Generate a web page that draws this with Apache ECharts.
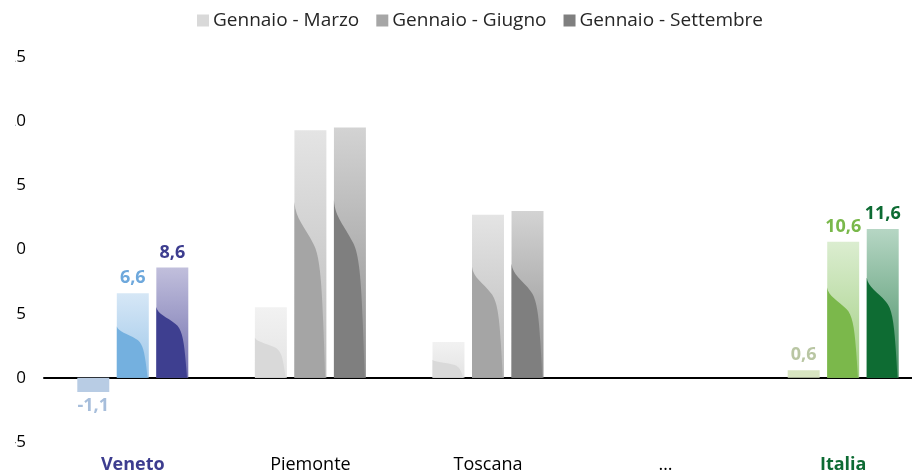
<!DOCTYPE html>
<html>
<head>
<meta charset="utf-8">
<script src="https://cdn.jsdelivr.net/npm/echarts@6/dist/echarts.min.js"></script>
<style>
  html, body { margin: 0; padding: 0; background: #fff; }
  #chart { width: 912px; height: 475px; }
</style>
</head>
<body>
<div id="chart"></div>
<script>
// Regions compared, cumulative change per period
const categories = ['Veneto', 'Piemonte', 'Toscana', '…', 'Italia'];
const seriesNames = ['Gennaio - Marzo', 'Gennaio - Giugno', 'Gennaio - Settembre'];
const genMar = [-1.1, 5.5, 2.8, null, 0.6];
const genGiu = [6.6, 19.3, 12.7, null, 10.6];
const genSet = [8.6, 19.5, 13.0, null, 11.6];
const yMin = -5, yMax = 25, yStep = 5;
// categories whose bars carry value labels
const labelled = ['Veneto', 'Italia'];

// colour sets per region family: [topLight, bottomLight, dark, label]
const palettes = {
  grey: [
    ['#f2f2f2', '#e3e3e3', '#d9d9d9', '#bfbfbf'],
    ['#e4e4e4', '#b9b9b9', '#a5a5a5', '#a5a5a5'],
    ['#d3d3d3', '#8e8e8e', '#7f7f7f', '#7f7f7f']
  ],
  blue: [
    ['#b8cce4', '#b8cce4', '#b8cce4', '#a7bedb'],
    ['#d6e7f6', '#9cc6e9', '#74b0df', '#6ea8dc'],
    ['#c1bfdc', '#716fae', '#3e3f90', '#3d3d8f']
  ],
  green: [
    ['#d8e5c1', '#d8e5c1', '#d8e5c1', '#b9c6a3'],
    ['#dbedd0', '#a0ce80', '#7bb84b', '#79b84a'],
    ['#b6d6c4', '#428c60', '#0e6c33', '#0d6b33']
  ]
};
const familyOf = name => name === 'Veneto' ? 'blue' : (name === 'Italia' ? 'green' : 'grey');
const legendColors = ['#d9d9d9', '#a6a6a6', '#7f7f7f'];
const catLabelColors = { Veneto: '#3d3d8f', Italia: '#0d6b33' };

const fmt = v => v.toFixed(1).replace('.', ',');
const FONT = '"Open Sans", "Liberation Sans", sans-serif';

function makeRender(si) {
  return function (params, api) {
    const ci = api.value(0);
    const v = api.value(1);
    if (v == null || isNaN(v)) return;
    const base = api.coord([ci, 0]);
    const tip = api.coord([ci, v]);
    const band = api.size([1, 0])[0];
    const bw = band * 0.18;
    const cx = base[0] + (si - 1) * band * 0.2225;
    const x = cx - bw / 2;
    const y = Math.min(base[1], tip[1]);
    const h = Math.abs(base[1] - tip[1]);
    const name = categories[ci];
    const pal = palettes[familyOf(name)][si];
    const children = [];

    children.push({
      type: 'rect',
      shape: { x: x, y: y, width: bw, height: h },
      style: {
        fill: {
          type: 'linear', x: 0, y: 0, x2: 0, y2: 1,
          colorStops: [{ offset: 0, color: pal[0] }, { offset: 1, color: pal[1] }]
        }
      }
    });

    // darker swoosh in the lower part of positive bars
    if (v > 0 && h > 12) {
      const a = Math.min(0.5, (13.5 + 0.236 * h) / h);
      const r = 1 - a;
      const P = (u, t) => (x + u * bw).toFixed(2) + ' ' + (y + t * h).toFixed(2);
      const T = k => a + k * r;
      const d = 'M ' + P(0, a) +
        ' C ' + P(0.04, T(0.10)) + ' ' + P(0.33, T(0.14)) + ' ' + P(0.60, T(0.24)) +
        ' C ' + P(0.78, T(0.30)) + ' ' + P(0.85, T(0.44)) + ' ' + P(0.90, T(0.68)) +
        ' C ' + P(0.93, T(0.82)) + ' ' + P(0.95, T(0.93)) + ' ' + P(0.96, 1) +
        ' L ' + P(0, 1) + ' Z';
      children.push({
        type: 'path',
        shape: { pathData: d },
        style: { fill: pal[2] }
      });
    }

    if (labelled.indexOf(name) >= 0) {
      children.push({
        type: 'text',
        style: {
          text: fmt(v),
          x: cx,
          y: v >= 0 ? y - 6 : y + h + 5,
          align: 'center',
          verticalAlign: v >= 0 ? 'bottom' : 'top',
          fill: pal[3],
          font: 'bold 18px ' + FONT
        }
      });
    }
    return { type: 'group', children: children };
  };
}

const seriesData = [genMar, genGiu, genSet];

const chart = echarts.init(document.getElementById('chart'), null, { renderer: 'canvas' });
chart.setOption({
  animation: false,
  backgroundColor: '#fff',
  legend: {
    top: 6,
    left: 192,
    icon: 'rect',
    itemWidth: 12,
    itemHeight: 12,
    itemGap: 17,
    textStyle: { fontFamily: FONT, fontSize: 19, color: '#262626', padding: [0, 0, 0, -1] },
    data: seriesNames
  },
  grid: {
    left: 44, top: 57, bottom: 33, width: 888,
    containLabel: false,
    outerBoundsMode: 'none'
  },
  xAxis: [
    {
      type: 'category',
      data: categories,
      axisLine: { onZero: true, lineStyle: { color: '#000', width: 2 } },
      axisTick: { show: false },
      axisLabel: { show: false }
    },
    {
      type: 'category',
      data: categories,
      position: 'bottom',
      axisLine: { show: false, onZero: false },
      axisTick: { show: false },
      axisLabel: {
        margin: 14,
        fontFamily: FONT,
        fontSize: 18,
        color: '#000',
        formatter: val => val === 'Veneto' ? '{v|' + val + '}' : (val === 'Italia' ? '{i|' + val + '}' : val),
        rich: {
          v: { fontFamily: FONT, fontSize: 18, fontWeight: 'bold', color: catLabelColors.Veneto },
          i: { fontFamily: FONT, fontSize: 18, fontWeight: 'bold', color: catLabelColors.Italia }
        }
      }
    }
  ],
  yAxis: {
    type: 'value',
    min: yMin,
    max: yMax,
    interval: yStep,
    splitLine: { show: false },
    axisLine: { show: false },
    axisTick: { show: false },
    axisLabel: { margin: 18, fontFamily: FONT, fontSize: 17, color: '#000' }
  },
  series: seriesData.map((vals, si) => ({
    type: 'custom',
    name: seriesNames[si],
    xAxisIndex: 0,
    itemStyle: { color: legendColors[si] },
    renderItem: makeRender(si),
    encode: { x: 0, y: 1 },
    data: vals.map((v, i) => [i, v == null ? NaN : v])
  })),
  graphic: [
    // left margin band: the tick column is trimmed at the page edge
    { type: 'rect', left: 0, top: 40, shape: { width: 15, height: 420 }, style: { fill: '#fff' }, z: 100 }
  ]
});
</script>
</body>
</html>
